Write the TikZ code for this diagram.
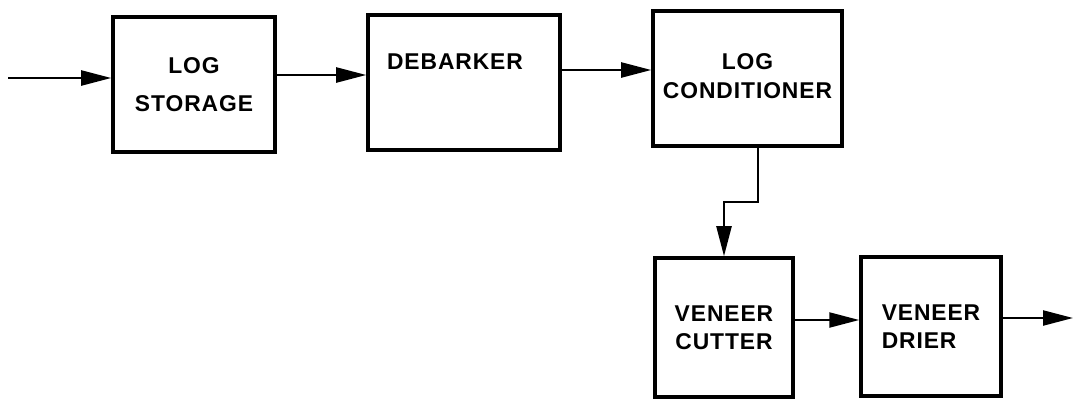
\documentclass[tikz,border=0pt]{standalone}
\usepackage{fontspec}
\newfontfamily\blockfont[LetterSpace=4]{Liberation Sans}
\usetikzlibrary{arrows.meta}
\tikzset{
    procBox/.style={
        rectangle,
        draw=black,
        fill=white,
        line width=2pt,
        inner sep=0pt,
        align=center,
        font=\blockfont\bfseries\fontsize{13}{16}\selectfont
    },
    flow/.style={-{Triangle[length=6mm, width=3mm]}, line width=1.3pt}
}

\begin{document}
\begin{tikzpicture}
            \useasboundingbox (0,0) rectangle (21.5,-7.96);

            % Coordinates
            \coordinate (feedIn) at (0.16,-1.56);
            \coordinate (feedOut) at (21.46,-6.36);

            % Blocks
            \node[procBox, minimum width=3.24cm, minimum height=2.70cm] (LogStorage) at (3.88,-1.69) {LOG\\[6pt]STORAGE};
            \node[procBox, minimum width=3.84cm, minimum height=2.70cm,
                  label={[anchor=center, xshift=-1.8mm, yshift=-0.96cm, font=\blockfont\bfseries\fontsize{13}{16}\selectfont]north:DEBARKER}] (Debarker) at (9.28,-1.65) {};
            \node[procBox, minimum width=3.78cm, minimum height=2.70cm, text depth=0.1cm] (LogConditioner) at (14.95,-1.57) {LOG\\CONDITIONER};
            \node[procBox, minimum width=2.76cm, minimum height=2.78cm] (VeneerCutter) at (14.48,-6.55) {VENEER\\CUTTER};
            \node[procBox, align=left, minimum width=2.80cm, minimum height=2.78cm] (VeneerDrier) at (18.62,-6.53) {VENEER\\DRIER};

            % Flow arrows
            \draw[flow] (feedIn) -- (feedIn -| LogStorage.west);
            \draw[flow] ([yshift=1.9mm]LogStorage.east) -- ([yshift=1.9mm]LogStorage.east -| Debarker.west);
            \draw[flow] ([yshift=2.5mm]Debarker.east) -- ([yshift=2.5mm]Debarker.east -| LogConditioner.west);
            \draw[flow] ([xshift=2.1mm]LogConditioner.south) -- ++(0,-1.08) -| (VeneerCutter.north);
            \draw[flow] ([yshift=1.5mm]VeneerCutter.east) -- ([yshift=1.5mm]VeneerCutter.east -| VeneerDrier.west);
            \draw[flow] (feedOut -| VeneerDrier.east) -- (feedOut);
        \end{tikzpicture}
\end{document}
